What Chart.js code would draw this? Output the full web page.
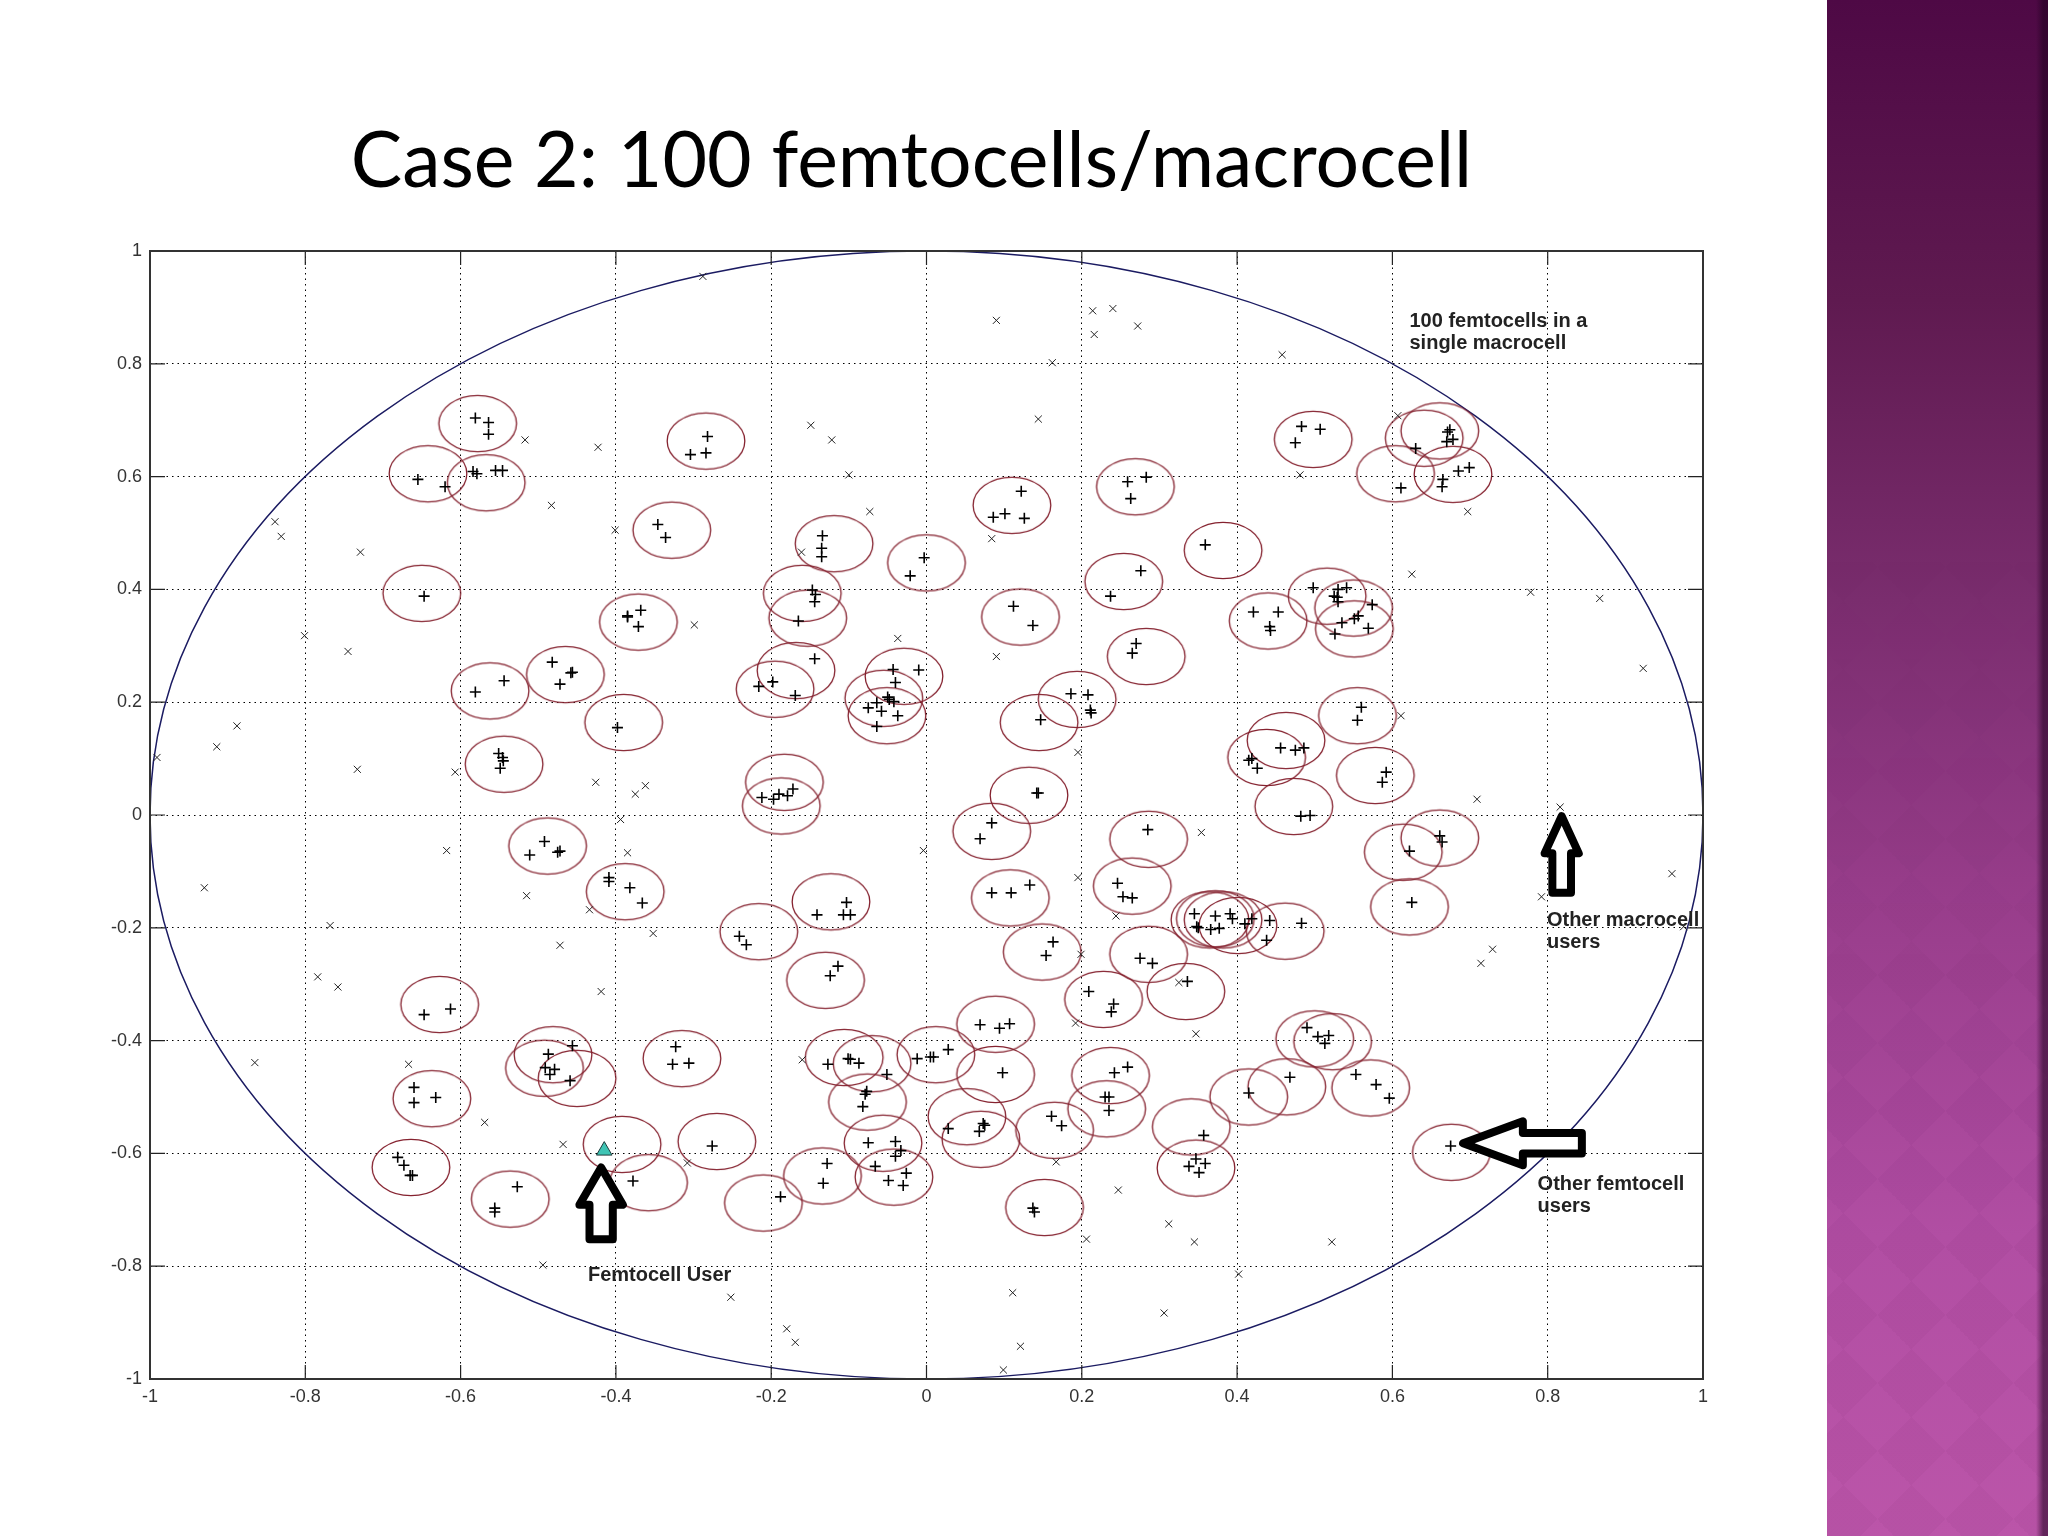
<!DOCTYPE html>
<html>
<head>
<meta charset="utf-8">
<title>Case 2: 100 femtocells/macrocell</title>
<script src="https://cdn.jsdelivr.net/npm/chart.js@4/dist/chart.umd.min.js"></script>
<style>
html, body { margin: 0; padding: 0; background: #fff; }
#wrap { position: relative; width: 2048px; height: 1536px; overflow: hidden; }
#side { position: absolute; left: 1827px; top: 0; width: 221px; height: 1536px;
    background: linear-gradient(to bottom, #4e0945 0, #5f1a50 300px, #7a2d6e 600px, #983d8b 900px, #b14ea3 1236px, #bb55a9 1536px); }
#side:before { content: ''; position: absolute; inset: 0;
    background-image: linear-gradient(45deg, rgba(90,20,90,.045) 25%, transparent 25%, transparent 75%, rgba(90,20,90,.045) 75%),
                      linear-gradient(-45deg, rgba(90,20,90,.045) 25%, transparent 25%, transparent 75%, rgba(90,20,90,.045) 75%);
    background-size: 68px 68px; background-position: 16px 23px;
    -webkit-mask-image: linear-gradient(to top, #000 30%, transparent 65%); }
#side:after { content: ''; position: absolute; top: 0; right: 0; bottom: 0; width: 12px;
    background: linear-gradient(to right, rgba(30,0,30,0), rgba(30,0,30,.55) 60%); }
canvas { position: absolute; left: 0; top: 0; }
</style>
</head>
<body>
<div id="wrap">
<div id="side"></div>
<canvas id="cellChart" width="2048" height="1536"></canvas>
</div>
<script>
const tickValues = [-1, -0.8, -0.6, -0.4, -0.2, 0, 0.2, 0.4, 0.6, 0.8, 1];

// femtocell coverage centres
const cellX = [-0.578,-0.642,-0.567,-0.284,-0.328,-0.119,0,-0.650,-0.371,-0.160,-0.153,-0.465,-0.562,-0.168,-0.195,-0.029,-0.055,-0.051,-0.390,-0.544,-0.183,-0.187,
    0.110,0.269,0.382,0.254,0.121,0.283,0.498,0.661,0.641,0.604,0.678,0.516,0.550,0.551,0.440,0.194,0.145,0.555,0.463,0.438,0.578,0.132,0.473,0.084,
    0.661,0.614,0.622,0.286,0.265,0.108,0.149,0.286,0.334,0.228,0.089,0.012,0.089,0.237,0.232,0.052,0.070,0.165,0.341,0.347,0.415,0.464,0.572,0.500,0.523,0.676,0.152,
    0.365,0.372,0.382,0.401,0.462,
    -0.488,-0.388,-0.123,-0.216,-0.130,-0.627,-0.481,-0.492,-0.450,-0.315,-0.637,-0.664,-0.536,-0.392,-0.358,-0.270,-0.210,-0.134,-0.106,-0.070,-0.076,-0.056,-0.042];
const cellY = [0.694,0.605,0.589,0.663,0.505,0.481,0.447,0.393,0.342,0.393,0.349,0.249,0.220,0.256,0.223,0.246,0.207,0.176,0.164,0.090,0.058,0.016,
    0.549,0.582,0.469,0.414,0.351,0.281,0.666,0.681,0.668,0.605,0.604,0.388,0.367,0.330,0.344,0.205,0.164,0.176,0.132,0.102,0.070,0.035,0.015,-0.029,
    -0.041,-0.066,-0.163,-0.043,-0.126,-0.147,-0.243,-0.247,-0.313,-0.327,-0.371,-0.425,-0.460,-0.462,-0.521,-0.535,-0.575,-0.559,-0.553,-0.626,-0.500,-0.482,-0.484,-0.397,-0.402,-0.598,-0.696,
    -0.186,-0.184,-0.186,-0.196,-0.206,
    -0.055,-0.136,-0.154,-0.207,-0.293,-0.336,-0.425,-0.449,-0.467,-0.432,-0.503,-0.625,-0.681,-0.584,-0.652,-0.579,-0.688,-0.640,-0.430,-0.441,-0.509,-0.582,-0.642];

// other femtocell users (+)
const femtoX = [-0.581,-0.564,-0.564,-0.655,-0.620,-0.584,-0.579,-0.555,-0.546,-0.282,-0.284,-0.304,-0.346,-0.336,-0.134,-0.135,-0.135,-0.003,-0.021,-0.647,
    -0.385,-0.385,-0.368,-0.371,-0.147,-0.143,-0.144,-0.165,-0.144,-0.482,-0.456,-0.458,-0.472,-0.544,-0.581,-0.198,-0.216,-0.169,-0.043,-0.010,-0.040,
    -0.050,-0.064,-0.042,-0.048,-0.075,-0.058,-0.037,-0.064,-0.398,-0.551,-0.546,-0.545,-0.549,-0.212,-0.197,-0.190,-0.179,-0.172,
    0.122,0.086,0.101,0.126,0.259,0.283,0.263,0.359,0.276,0.237,0.112,0.137,0.270,0.265,0.483,0.507,0.475,0.674,0.671,0.670,0.678,0.630,
    0.685,0.699,0.665,0.664,0.611,0.498,0.530,0.541,0.525,0.529,0.530,0.574,0.421,0.453,0.442,0.443,0.556,0.551,0.535,0.569,0.526,
    0.186,0.208,0.211,0.212,0.147,0.560,0.555,0.456,0.475,0.486,0.415,0.419,0.426,0.592,0.587,0.142,0.144,0.482,0.494,
    0.084,0.069,0.285,0.661,0.664,0.622,0.625,0.246,0.253,0.265,0.084,0.109,0.133,0.163,0.154,0.275,0.291,0.336,0.209,0.241,0.238,
    0.069,0.094,0.107,-0.012,0.005,0.009,0.028,0.098,0.242,0.259,0.230,0.235,0.235,0.028,0.073,0.075,0.068,0.161,0.174,0.357,
    0.347,0.359,0.338,0.351,0.415,0.468,0.553,0.579,0.596,0.490,0.504,0.518,0.513,0.675,0.137,0.139,
    0.345,0.372,0.391,0.394,0.348,0.350,0.366,0.377,0.410,0.419,0.442,0.438,0.483,
    -0.492,-0.511,-0.475,-0.472,-0.409,-0.409,-0.382,-0.366,-0.103,-0.141,-0.107,-0.098,-0.241,-0.232,-0.114,-0.124,-0.647,-0.613,-0.456,-0.487,
    -0.491,-0.479,-0.485,-0.459,-0.323,-0.327,-0.306,-0.660,-0.632,-0.660,-0.681,-0.673,-0.665,-0.662,-0.527,-0.556,-0.556,-0.378,-0.276,-0.188,
    -0.128,-0.133,-0.127,-0.101,-0.098,-0.087,-0.051,-0.077,-0.079,-0.082,-0.075,-0.040,-0.033,-0.040,-0.066,-0.026,-0.049,-0.030];
const femtoY = [0.704,0.696,0.675,0.595,0.582,0.609,0.605,0.611,0.611,0.671,0.642,0.639,0.515,0.492,0.495,0.473,0.458,0.456,0.424,0.388,
    0.353,0.351,0.363,0.334,0.399,0.391,0.378,0.344,0.277,0.271,0.253,0.252,0.232,0.238,0.218,0.236,0.228,0.212,0.258,0.257,0.235,
    0.209,0.199,0.201,0.205,0.190,0.184,0.176,0.157,0.155,0.109,0.102,0.096,0.083,0.031,0.028,0.037,0.034,0.046,
    0.574,0.528,0.534,0.526,0.591,0.599,0.561,0.479,0.433,0.388,0.370,0.336,0.304,0.287,0.689,0.684,0.660,0.683,0.679,0.662,0.666,0.650,
    0.610,0.616,0.595,0.582,0.580,0.403,0.400,0.403,0.388,0.386,0.378,0.373,0.360,0.360,0.334,0.327,0.353,0.348,0.341,0.331,0.321,
    0.215,0.213,0.186,0.181,0.169,0.191,0.168,0.119,0.115,0.119,0.097,0.100,0.083,0.076,0.058,0.039,0.039,-0.002,-0.001,
    -0.014,-0.042,-0.026,-0.037,-0.048,-0.064,-0.155,-0.121,-0.145,-0.147,-0.138,-0.138,-0.124,-0.225,-0.249,-0.254,-0.263,-0.295,-0.313,-0.335,-0.349,
    -0.372,-0.378,-0.370,-0.432,-0.429,-0.429,-0.416,-0.457,-0.457,-0.447,-0.500,-0.500,-0.524,-0.556,-0.547,-0.550,-0.561,-0.534,-0.551,-0.568,
    -0.610,-0.618,-0.623,-0.634,-0.493,-0.465,-0.460,-0.478,-0.502,-0.377,-0.393,-0.391,-0.405,-0.587,-0.697,-0.704,
    -0.175,-0.179,-0.175,-0.184,-0.198,-0.200,-0.203,-0.201,-0.193,-0.184,-0.187,-0.222,-0.192,
    -0.047,-0.071,-0.066,-0.064,-0.111,-0.118,-0.129,-0.156,-0.155,-0.177,-0.177,-0.177,-0.215,-0.230,-0.268,-0.285,-0.354,-0.344,-0.409,-0.424,
    -0.448,-0.451,-0.460,-0.471,-0.411,-0.442,-0.440,-0.483,-0.501,-0.510,-0.607,-0.621,-0.639,-0.639,-0.659,-0.697,-0.704,-0.649,-0.587,-0.677,
    -0.618,-0.653,-0.442,-0.432,-0.433,-0.440,-0.460,-0.490,-0.495,-0.517,-0.581,-0.579,-0.595,-0.605,-0.623,-0.635,-0.648,-0.657];

// other macrocell users (x)
const macroX = [-0.288,-0.517,-0.423,-0.149,-0.122,-0.100,-0.073,-0.483,-0.401,-0.839,-0.831,-0.729,-0.161,-0.801,-0.745,-0.299,-0.037,-0.888,-0.914,-0.991,-0.733,-0.607,-0.426,-0.362,-0.375,-0.394,
    0.090,0.214,0.240,0.216,0.272,0.162,0.458,0.144,0.607,0.481,0.084,0.697,0.625,0.778,0.867,0.923,0.090,0.611,0.195,0.709,0.816,
    0.354,-0.004,0.195,0.960,0.792,0.244,0.975,0.199,0.729,0.714,0.325,0.192,0.347,0.167,0.247,0.312,0.206,0.345,0.522,0.402,0.111,0.306,0.121,0.099,
    -0.618,-0.385,-0.930,-0.515,-0.434,-0.768,-0.352,-0.472,-0.784,-0.758,-0.419,-0.865,-0.667,-0.160,-0.569,-0.468,-0.308,-0.494,-0.252,-0.180,-0.169];
const macroY = [0.955,0.665,0.652,0.691,0.665,0.603,0.538,0.549,0.505,0.520,0.494,0.466,0.466,0.318,0.290,0.337,0.313,0.158,0.121,0.102,0.081,0.076,0.058,0.052,0.037,-0.008,
    0.877,0.894,0.898,0.852,0.867,0.802,0.816,0.702,0.708,0.603,0.490,0.538,0.427,0.395,0.384,0.260,0.281,0.176,0.111,0.028,0.014,
    -0.031,-0.063,-0.111,-0.104,-0.145,-0.179,-0.198,-0.247,-0.238,-0.263,-0.297,-0.369,-0.388,-0.615,-0.665,-0.725,-0.752,-0.757,-0.757,-0.814,-0.847,-0.883,-0.942,-0.984,
    -0.063,-0.067,-0.129,-0.143,-0.168,-0.196,-0.210,-0.231,-0.287,-0.305,-0.313,-0.439,-0.442,-0.434,-0.545,-0.584,-0.617,-0.798,-0.855,-0.911,-0.935];

// the femtocell user being looked at
const userX = [-0.415];
const userY = [-0.595];

// macrocell centre
const macroCentreX = [0];
const macroCentreY = [0];

const macroRadius = 1;
const cellRadius = 0.05;

// annotations, in axis units
const notes = [
    { x: 0.622, y: 0.866, lines: ['100 femtocells in a', 'single macrocell'] },
    { x: -0.436, y: -0.826, lines: ['Femtocell User'] },
    { x: 0.799, y: -0.197, lines: ['Other macrocell', 'users'] },
    { x: 0.787, y: -0.665, lines: ['Other femtocell', 'users'] }
];
const upArrows = [
    { tip: -0.625, head: -0.691, end: -0.752, mid: -0.419, wing: 0.028, shaft: 0.015 },
    { tip: -0.002, head: -0.068, end: -0.138, mid: 0.818, wing: 0.022, shaft: 0.012 }
];
const leftArrows = [
    { tip: 0.691, head: 0.768, end: 0.844, mid: -0.582, wing: 0.039, shaft: 0.018 }
];

function toPoints(xs, ys) {
    return xs.map((x, i) => ({ x: x, y: ys[i] }));
}

// outline drawn as a point image, sized in axis units so it stays an ellipse like the figure
const sprites = {};
function ringSprite(chart, radius, color, width) {
    const rx = Math.abs(chart.scales.x.getPixelForValue(radius) - chart.scales.x.getPixelForValue(0));
    const ry = Math.abs(chart.scales.y.getPixelForValue(radius) - chart.scales.y.getPixelForValue(0));
    const key = radius + '_' + rx + '_' + ry;
    if (sprites[key]) return sprites[key];
    const c = document.createElement('canvas');
    c.width = Math.ceil(rx * 2) + 6;
    c.height = Math.ceil(ry * 2) + 6;
    const g = c.getContext('2d');
    g.strokeStyle = color;
    g.lineWidth = width;
    g.beginPath();
    g.ellipse(c.width / 2, c.height / 2, rx, ry, 0, 0, Math.PI * 2);
    g.stroke();
    sprites[key] = c;
    return c;
}

const figurePlugin = {
    id: 'figure',
    afterLayout(chart) {
        // slide title sits over the plot, not the whole canvas
        chart.titleBlock.left = 0;
        chart.titleBlock.right = 1823;
    },
    afterDatasetsDraw(chart) {
        const { ctx, chartArea: a, scales: { x, y } } = chart;
        ctx.save();
        // inward ticks and closed box, matlab style
        ctx.strokeStyle = '#222';
        ctx.lineWidth = 1.2;
        ctx.beginPath();
        tickValues.forEach(v => {
            const px = x.getPixelForValue(v), py = y.getPixelForValue(v);
            ctx.moveTo(px, a.bottom); ctx.lineTo(px, a.bottom - 14);
            ctx.moveTo(px, a.top); ctx.lineTo(px, a.top + 14);
            ctx.moveTo(a.left, py); ctx.lineTo(a.left + 15, py);
            ctx.moveTo(a.right, py); ctx.lineTo(a.right - 15, py);
        });
        ctx.stroke();
        ctx.strokeStyle = '#333';
        ctx.lineWidth = 2;
        ctx.strokeRect(a.left, a.top, a.right - a.left, a.bottom - a.top);

        // arrows
        ctx.strokeStyle = '#000';
        ctx.fillStyle = '#fff';
        ctx.lineWidth = 8;
        ctx.lineJoin = 'round';
        upArrows.forEach(r => {
            ctx.beginPath();
            ctx.moveTo(x.getPixelForValue(r.mid), y.getPixelForValue(r.tip));
            ctx.lineTo(x.getPixelForValue(r.mid + r.wing), y.getPixelForValue(r.head));
            ctx.lineTo(x.getPixelForValue(r.mid + r.shaft), y.getPixelForValue(r.head));
            ctx.lineTo(x.getPixelForValue(r.mid + r.shaft), y.getPixelForValue(r.end));
            ctx.lineTo(x.getPixelForValue(r.mid - r.shaft), y.getPixelForValue(r.end));
            ctx.lineTo(x.getPixelForValue(r.mid - r.shaft), y.getPixelForValue(r.head));
            ctx.lineTo(x.getPixelForValue(r.mid - r.wing), y.getPixelForValue(r.head));
            ctx.closePath();
            ctx.fill();
            ctx.stroke();
        });
        leftArrows.forEach(r => {
            ctx.beginPath();
            ctx.moveTo(x.getPixelForValue(r.tip), y.getPixelForValue(r.mid));
            ctx.lineTo(x.getPixelForValue(r.head), y.getPixelForValue(r.mid + r.wing));
            ctx.lineTo(x.getPixelForValue(r.head), y.getPixelForValue(r.mid + r.shaft));
            ctx.lineTo(x.getPixelForValue(r.end), y.getPixelForValue(r.mid + r.shaft));
            ctx.lineTo(x.getPixelForValue(r.end), y.getPixelForValue(r.mid - r.shaft));
            ctx.lineTo(x.getPixelForValue(r.head), y.getPixelForValue(r.mid - r.shaft));
            ctx.lineTo(x.getPixelForValue(r.head), y.getPixelForValue(r.mid - r.wing));
            ctx.closePath();
            ctx.fill();
            ctx.stroke();
        });

        // labels
        ctx.fillStyle = '#222';
        ctx.font = 'bold 20px "Liberation Sans", Arial, sans-serif';
        ctx.textAlign = 'left';
        ctx.textBaseline = 'alphabetic';
        notes.forEach(n => {
            n.lines.forEach((line, i) => {
                ctx.fillText(line, x.getPixelForValue(n.x), y.getPixelForValue(n.y) + i * 22);
            });
        });
        ctx.restore();
    }
};

new Chart(document.getElementById('cellChart').getContext('2d'), {
    type: 'scatter',
    plugins: [figurePlugin],
    data: {
        datasets: [
            {
                label: 'Macrocell',
                data: toPoints(macroCentreX, macroCentreY),
                order: 5,
                pointRadius: 1,
                pointStyle: ctx => ringSprite(ctx.chart, macroRadius, '#1b1b62', 1.5)
            },
            {
                label: 'Femtocells',
                data: toPoints(cellX, cellY),
                order: 4,
                pointRadius: 1,
                pointStyle: ctx => ringSprite(ctx.chart, cellRadius, '#85222f', 1.3)
            },
            {
                label: 'Other macrocell users',
                data: toPoints(macroX, macroY),
                order: 3,
                pointStyle: 'crossRot',
                pointRadius: 5,
                borderColor: '#222',
                borderWidth: 1
            },
            {
                label: 'Other femtocell users',
                data: toPoints(femtoX, femtoY),
                order: 2,
                pointStyle: 'cross',
                pointRadius: 5.5,
                borderColor: '#000',
                borderWidth: 1.6
            },
            {
                label: 'Femtocell user',
                data: toPoints(userX, userY),
                order: 1,
                pointStyle: 'triangle',
                pointRadius: 9,
                backgroundColor: '#3fc4b4',
                borderColor: '#1d3a3a',
                borderWidth: 1
            }
        ]
    },
    options: {
        responsive: false,
        animation: false,
        events: [],
        layout: { autoPadding: false, padding: { left: 0, right: 345, top: 0, bottom: 0 } },
        plugins: {
            legend: { display: false },
            tooltip: { enabled: false },
            title: {
                display: true,
                text: 'Case 2: 100 femtocells/macrocell',
                color: '#000',
                font: { family: 'Lato', size: 77, weight: 'normal', lineHeight: 1 },
                padding: { top: 124, bottom: 50 }
            }
        },
        scales: {
            x: {
                type: 'linear',
                min: -1,
                max: 1,
                afterBuildTicks: s => { s.ticks = tickValues.map(v => ({ value: v })); },
                afterFit: s => { s.height = 157; },
                ticks: {
                    maxRotation: 0,
                    autoSkip: false,
                    padding: 7,
                    color: '#333',
                    font: { family: 'Liberation Sans', size: 18 },
                    callback: v => String(v)
                },
                grid: { color: '#000', lineWidth: 1, drawTicks: false },
                border: { display: false, dash: [1.5, 4] }
            },
            y: {
                type: 'linear',
                min: -1,
                max: 1,
                afterBuildTicks: s => { s.ticks = tickValues.map(v => ({ value: v })); },
                afterFit: s => { s.width = 150; },
                ticks: {
                    autoSkip: false,
                    padding: 8,
                    color: '#333',
                    font: { family: 'Liberation Sans', size: 18 },
                    callback: v => String(v)
                },
                grid: { color: '#000', lineWidth: 1, drawTicks: false },
                border: { display: false, dash: [1.5, 4] }
            }
        }
    }
});
</script>
</body>
</html>
